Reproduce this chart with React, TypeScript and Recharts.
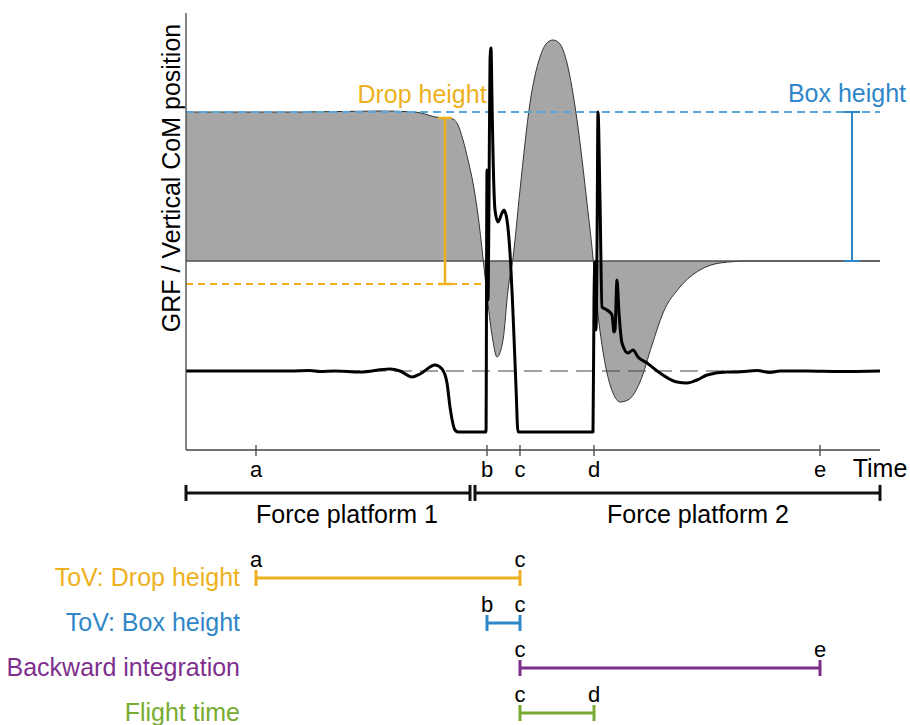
import React from 'react';
import { ComposedChart, Area, Line, XAxis, YAxis, ReferenceLine, Scatter } from 'recharts';

const FONT = '"Liberation Sans", Arial, Helvetica, sans-serif';

// ---- time axis (ms) ----
const timeDomain = [0, 1388];
const tickTimes = [140, 602, 668, 816, 1268];
const tickLabels = ['a', 'b', 'c', 'd', 'e'];

// ---- vertical CoM position (normalised units) ----
const comData = [
  { t: 0, y: 1.49 }, { t: 228, y: 1.49 }, { t: 388, y: 1.5 }, { t: 458, y: 1.49 }, { t: 478, y: 1.47 },
  { t: 498, y: 1.44 }, { t: 522, y: 1.43 }, { t: 534, y: 1.42 }, { t: 544, y: 1.36 }, { t: 554, y: 1.21 },
  { t: 564, y: 1.01 }, { t: 574, y: 0.78 }, { t: 584, y: 0.46 }, { t: 594, y: 0.03 }, { t: 602, y: -0.34 },
  { t: 612, y: -0.74 }, { t: 622, y: -0.96 }, { t: 634, y: -0.79 }, { t: 644, y: -0.29 }, { t: 654, y: 0.03 },
  { t: 668, y: 0.71 }, { t: 688, y: 1.58 }, { t: 708, y: 2.04 }, { t: 720, y: 2.17 }, { t: 734, y: 2.21 },
  { t: 748, y: 2.17 }, { t: 762, y: 1.98 }, { t: 782, y: 1.41 }, { t: 802, y: 0.58 }, { t: 814, y: 0.03 },
  { t: 822, y: -0.44 }, { t: 832, y: -0.84 }, { t: 842, y: -1.12 }, { t: 854, y: -1.32 }, { t: 868, y: -1.41 },
  { t: 884, y: -1.39 }, { t: 908, y: -1.21 }, { t: 932, y: -0.84 }, { t: 954, y: -0.52 }, { t: 988, y: -0.26 },
  { t: 1028, y: -0.09 }, { t: 1068, y: -0.02 }, { t: 1128, y: 0 }, { t: 1388, y: 0 },
];

// ---- ground reaction force (normalised units) ----
const grfData = [
  { t: 0, y: -1.1 }, { t: 128, y: -1.1 }, { t: 208, y: -1.1 }, { t: 248, y: -1.095 }, { t: 268, y: -1.105 },
  { t: 298, y: -1.1 }, { t: 348, y: -1.11 }, { t: 408, y: -1.08 }, { t: 428, y: -1.1 }, { t: 452, y: -1.16 },
  { t: 468, y: -1.13 }, { t: 498, y: -1.04 }, { t: 512, y: -1.08 }, { t: 522, y: -1.22 }, { t: 528, y: -1.46 },
  { t: 538, y: -1.69 }, { t: 544, y: -1.71 }, { t: 600, y: -1.71 }, { t: 602, y: 0.91 }, { t: 604, y: -0.39 },
  { t: 606, y: 0.61 }, { t: 608, y: 2.01 }, { t: 610, y: 2.13 }, { t: 612, y: 1.61 }, { t: 614, y: 1.08 },
  { t: 618, y: 0.51 }, { t: 624, y: 0.39 }, { t: 632, y: 0.48 }, { t: 636, y: 0.51 }, { t: 642, y: 0.41 },
  { t: 648, y: 0.08 }, { t: 654, y: -0.52 }, { t: 660, y: -1.26 }, { t: 664, y: -1.71 }, { t: 814, y: -1.71 },
  { t: 816, y: -0.39 }, { t: 818, y: -0.01 }, { t: 820, y: -0.69 }, { t: 822, y: 0.11 }, { t: 824, y: 1.49 },
  { t: 828, y: 0.61 }, { t: 832, y: -0.46 }, { t: 842, y: -0.49 }, { t: 852, y: -0.54 }, { t: 856, y: -0.71 },
  { t: 858, y: -0.69 }, { t: 862, y: -0.19 }, { t: 866, y: -0.52 }, { t: 872, y: -0.82 }, { t: 884, y: -0.92 },
  { t: 894, y: -0.89 }, { t: 904, y: -0.96 }, { t: 922, y: -1.02 }, { t: 948, y: -1.12 }, { t: 982, y: -1.21 },
  { t: 1002, y: -1.22 }, { t: 1022, y: -1.19 }, { t: 1042, y: -1.14 }, { t: 1082, y: -1.11 }, { t: 1102, y: -1.11 },
  { t: 1142, y: -1.095 }, { t: 1168, y: -1.115 }, { t: 1188, y: -1.1 }, { t: 1242, y: -1.1 }, { t: 1308, y: -1.105 },
  { t: 1388, y: -1.1 },
];

// ---- levels ----
const boxLevel = 1.49;
const dropTop = 1.43;
const dropBottom = -0.23;
const bodyWeight = -1.1;
const dropBarTime = 518;
const boxBarTime = 1332;
const dropDashEnd = 600;

const chartLabels = [
  { t: 472, y: 1.58, text: 'Drop height', color: '#EDB120' },
  { t: 1322, y: 1.59, text: 'Box height', color: '#2F87C9' },
];

// ---- platforms & intervals ----
const platforms = [
  { name: 'Force platform 1', start: 0, end: 568, labelT: 322 },
  { name: 'Force platform 2', start: 578, end: 1388, labelT: 1024 },
];
const platformRow = -1.89;

const intervals = [
  { name: 'ToV: Drop height', start: 'a', end: 'c', color: '#EDB120' },
  { name: 'ToV: Box height', start: 'b', end: 'c', color: '#2F87C9' },
  { name: 'Backward integration', start: 'c', end: 'e', color: '#7E2F8E' },
  { name: 'Flight time', start: 'c', end: 'd', color: '#77AC30' },
];

const timeOf = (letter: string) => tickTimes[tickLabels.indexOf(letter)];

const TimeTick = (props: any) => {
  const { x, y, payload } = props;
  const idx = tickTimes.indexOf(payload.value);
  return (
    <g>
      <line x1={x} x2={x} y1={y - 5} y2={y + 6} stroke="#444" strokeWidth={1.3} />
      <text x={x} y={y + 27} textAnchor="middle" fontSize={22} fill="#000" fontFamily={FONT}>
        {tickLabels[idx]}
      </text>
    </g>
  );
};

const TextShape = (props: any) => {
  const { cx, cy, payload } = props;
  return (
    <text x={cx} y={cy} textAnchor="middle" fontSize={25} fill={payload.color} fontFamily={FONT}>
      {payload.text}
    </text>
  );
};

const CapShape = (props: any) => {
  const { cx, cy, payload } = props;
  return (
    <g>
      <line x1={cx} x2={cx} y1={cy - 8} y2={cy + 8} stroke={payload.color} strokeWidth={3} />
      {payload.letter ? (
        <text x={cx} y={cy - 11} textAnchor="middle" fontSize={22} fill="#000" fontFamily={FONT}>
          {payload.letter}
        </text>
      ) : null}
    </g>
  );
};

const RowLabelShape = (props: any) => {
  const { cx, cy, payload } = props;
  return (
    <text x={cx + 54} y={cy + 8} textAnchor="end" fontSize={25} fill={payload.color} fontFamily={FONT}>
      {payload.text}
    </text>
  );
};

const FpLabelShape = (props: any) => {
  const { cx, cy, payload } = props;
  return (
    <text x={cx} y={cy + 30} textAnchor="middle" fontSize={25} fill="#000" fontFamily={FONT}>
      {payload.text}
    </text>
  );
};

const YLabel = (p: any) => {
  const vb = p && p.viewBox ? p.viewBox : { x: 185, y: 13, width: 1 };
  const x = vb.x + (vb.width || 0) - 15;
  const y = vb.y + 165;
  return (
    <text x={x} y={y} transform={`rotate(-90 ${x} ${y})`} textAnchor="middle" dominantBaseline="central" fontSize={25} fill="#000" fontFamily={FONT}>
      GRF / Vertical CoM position
    </text>
  );
};

const TimeLabel = (p: any) => {
  const vb = p && p.viewBox ? p.viewBox : { x: 186, y: 450, width: 694 };
  return (
    <text x={vb.x + vb.width} y={vb.y + 27} textAnchor="middle" fontSize={25} fill="#000" fontFamily={FONT}>
      Time
    </text>
  );
};

export default function App() {
  const intervalCaps = intervals.flatMap((iv, i) => [
    { t: timeOf(iv.start), y: i, letter: iv.start, color: iv.color },
    { t: timeOf(iv.end), y: i, letter: iv.end, color: iv.color },
  ]);
  const rowLabels = intervals.map((iv, i) => ({ t: 0, y: i, text: iv.name, color: iv.color }));
  const fpCaps = platforms.flatMap((p) => [
    { t: p.start, y: platformRow, color: '#111' },
    { t: p.end, y: platformRow, color: '#111' },
  ]);
  const fpLabels = platforms.map((p) => ({ t: p.labelT, y: platformRow, text: p.name }));

  return (
    <div style={{ position: 'absolute', left: 0, top: 0, width: 910, height: 725, background: '#fff', fontFamily: FONT }}>
      <ComposedChart width={910} height={482} margin={{ top: 13, right: 30, bottom: 2, left: 185 }}>
        <XAxis
          type="number"
          dataKey="t"
          domain={timeDomain}
          ticks={tickTimes}
          tick={<TimeTick />}
          tickLine={false}
          tickSize={0}
          tickMargin={0}
          height={30}
          axisLine={{ stroke: '#444', strokeWidth: 1.3 }}
          interval={0}
          label={<TimeLabel />}
        />
        <YAxis
          type="number"
          dataKey="y"
          domain={[-1.89, 2.48]}
          width={1}
          ticks={[]}
          tick={false}
          tickLine={false}
          axisLine={{ stroke: '#444', strokeWidth: 1.3 }}
          label={<YLabel />}
        />
        <Area
          data={comData}
          dataKey="y"
          type="monotone"
          baseValue={0}
          fill="#a6a6a6"
          fillOpacity={1}
          stroke="#333"
          strokeWidth={1}
          isAnimationActive={false}
          dot={false}
          activeDot={false}
        />
        <ReferenceLine y={0} stroke="#505050" strokeWidth={1.3} />
        <ReferenceLine y={bodyWeight} stroke="#444" strokeWidth={1} strokeDasharray="18 8" />
        <ReferenceLine y={boxLevel} stroke="#5AA5DC" strokeWidth={2} strokeDasharray="8 5" />
        <ReferenceLine segment={[{ x: 0, y: dropBottom }, { x: dropDashEnd, y: dropBottom }]} stroke="#EDB120" strokeWidth={2} strokeDasharray="7 5" />
        <ReferenceLine segment={[{ x: dropBarTime, y: dropTop }, { x: dropBarTime, y: dropBottom }]} stroke="#EDB120" strokeWidth={2.5} />
        <ReferenceLine segment={[{ x: dropBarTime - 14, y: dropTop }, { x: dropBarTime + 14, y: dropTop }]} stroke="#EDB120" strokeWidth={2.5} />
        <ReferenceLine segment={[{ x: dropBarTime - 14, y: dropBottom }, { x: dropBarTime + 14, y: dropBottom }]} stroke="#EDB120" strokeWidth={2.5} />
        <ReferenceLine segment={[{ x: boxBarTime, y: boxLevel }, { x: boxBarTime, y: 0 }]} stroke="#2F87C9" strokeWidth={2} />
        <ReferenceLine segment={[{ x: boxBarTime - 16, y: boxLevel }, { x: boxBarTime + 16, y: boxLevel }]} stroke="#2F87C9" strokeWidth={2} />
        <ReferenceLine segment={[{ x: boxBarTime - 16, y: 0 }, { x: boxBarTime + 16, y: 0 }]} stroke="#2F87C9" strokeWidth={2} />
        <Line
          data={grfData}
          dataKey="y"
          type="monotone"
          stroke="#000"
          strokeWidth={3}
          strokeLinejoin="round"
          dot={false}
          activeDot={false}
          isAnimationActive={false}
        />
        <Scatter data={chartLabels} dataKey="y" shape={TextShape} isAnimationActive={false} />
      </ComposedChart>
      <ComposedChart width={910} height={243} margin={{ top: 0, right: 30, bottom: 0, left: 186 }}>
        <XAxis type="number" dataKey="t" domain={timeDomain} hide />
        <YAxis type="number" dataKey="y" domain={[-2.133, 3.267]} reversed hide />
        {platforms.map((p) => (
          <Line
            key={p.name}
            data={[{ t: p.start, y: platformRow }, { t: p.end, y: platformRow }]}
            dataKey="y"
            type="linear"
            stroke="#111"
            strokeWidth={3}
            dot={false}
            activeDot={false}
            isAnimationActive={false}
          />
        ))}
        {intervals.map((iv, i) => (
          <Line
            key={iv.name}
            data={[{ t: timeOf(iv.start), y: i }, { t: timeOf(iv.end), y: i }]}
            dataKey="y"
            type="linear"
            stroke={iv.color}
            strokeWidth={3}
            dot={false}
            activeDot={false}
            isAnimationActive={false}
          />
        ))}
        <Scatter data={fpCaps} dataKey="y" shape={CapShape} isAnimationActive={false} />
        <Scatter data={fpLabels} dataKey="y" shape={FpLabelShape} isAnimationActive={false} />
        <Scatter data={intervalCaps} dataKey="y" shape={CapShape} isAnimationActive={false} />
        <Scatter data={rowLabels} dataKey="y" shape={RowLabelShape} isAnimationActive={false} />
      </ComposedChart>
    </div>
  );
}
